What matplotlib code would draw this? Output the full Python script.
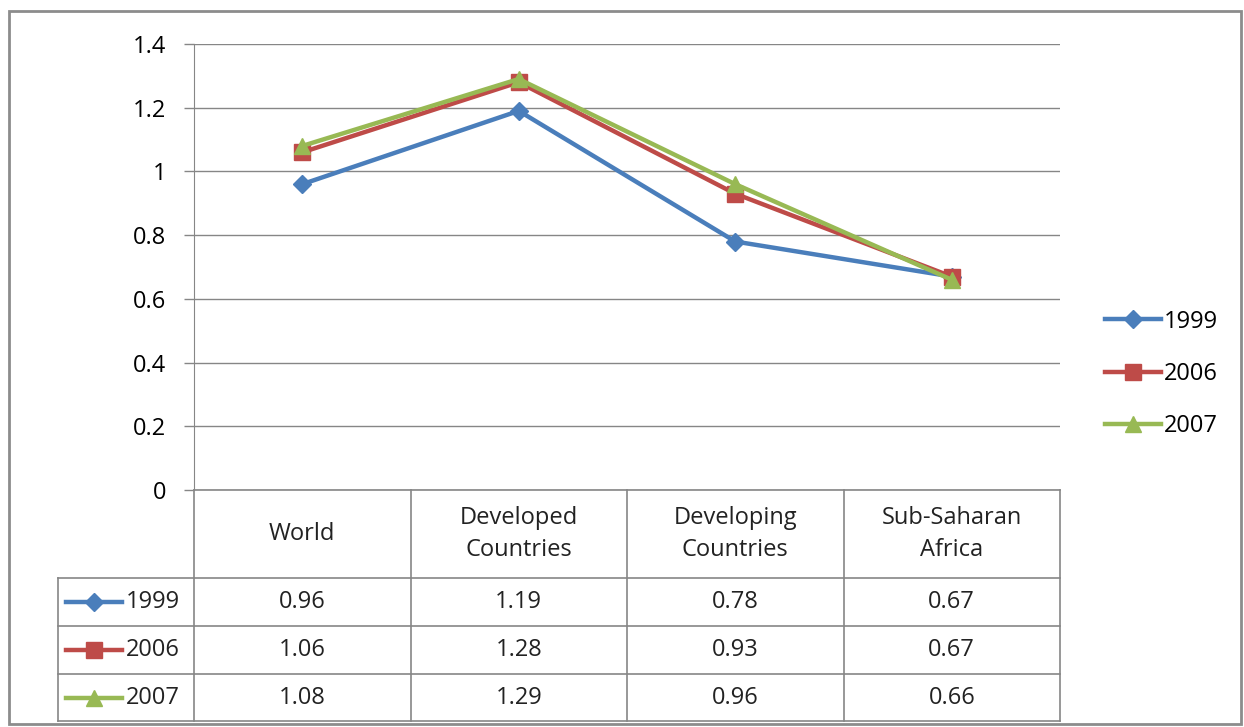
import matplotlib.pyplot as plt
from matplotlib.lines import Line2D
from matplotlib.patches import Rectangle

plt.rcParams['font.family'] = ['Open Sans', 'DejaVu Sans']

categories = ['World', 'Developed\nCountries', 'Developing\nCountries', 'Sub-Saharan\nAfrica']
years = ['1999', '2006', '2007']
v1999 = [0.96, 1.19, 0.78, 0.67]
v2006 = [1.06, 1.28, 0.93, 0.67]
v2007 = [1.08, 1.29, 0.96, 0.66]
yticks = [0, 0.2, 0.4, 0.6, 0.8, 1, 1.2, 1.4]

series = [v1999, v2006, v2007]
colors = ['#4a7ebb', '#be4b48', '#98b954']
markers = ['D', 's', '^']
msizes = [9, 12, 12]

W, H = 1244, 727
fig = plt.figure(figsize=(W / 100, H / 100), dpi=100)
FS = 17
GRID = '#868686'


def fx(x):
    return x / W


def fy(y):
    return 1 - y / H


# plot area in pixel units
L, R, T, B = 194, 1060, 44, 490
ax = fig.add_axes([fx(L), fy(B), fx(R) - fx(L), fy(T) - fy(B)])
ax.set_xlim(-0.5, len(categories) - 0.5)
ax.set_ylim(0, 1.4)
ax.set_yticks(yticks)
ax.set_yticklabels(['0' if t == 0 else ('%g' % t) for t in yticks], fontsize=FS)
ax.tick_params(axis='y', length=7, width=1, color=GRID, pad=13)
ax.set_xticks([])
ax.grid(axis='y', color=GRID, lw=1)
ax.set_axisbelow(True)
for s in ['top', 'right', 'bottom']:
    ax.spines[s].set_visible(False)
ax.spines['left'].set_color(GRID)

xs = list(range(len(categories)))
handles = []
for vals, yr, c, m, ms in zip(series, years, colors, markers, msizes):
    h, = ax.plot(xs, vals, color=c, lw=3.2, marker=m, ms=ms, mec=c, mfc=c,
                 label=yr, clip_on=False, zorder=3)
    handles.append(h)

fig.legend(handles=handles, loc='center left', bbox_to_anchor=(fx(1093), fy(374)),
           frameon=False, fontsize=FS, handlelength=2.4, handletextpad=0.1,
           labelspacing=1.2, borderpad=0)

# data table below the plot
col_edges = [L + (R - L) * i / len(categories) for i in range(len(categories) + 1)]
rows = [490, 578, 626, 674, 721]
tl = 58


def hline(x0, x1, y):
    fig.add_artist(Line2D([fx(x0), fx(x1)], [fy(y), fy(y)], color=GRID, lw=1.2))


def vline(x, y0, y1):
    fig.add_artist(Line2D([fx(x), fx(x)], [fy(y0), fy(y1)], color=GRID, lw=1.2))


hline(L, R, rows[0])
for y in rows[1:]:
    hline(tl, R, y)
for x in col_edges:
    vline(x, rows[0], rows[-1])
vline(tl, rows[1], rows[-1])

for i, cat in enumerate(categories):
    cx = (col_edges[i] + col_edges[i + 1]) / 2
    fig.text(fx(cx), fy((rows[0] + rows[1]) / 2), cat, ha='center', va='center',
             fontsize=FS, linespacing=1.5, color='#222222')

for r, (vals, yr, c, m, ms) in enumerate(zip(series, years, colors, markers, msizes)):
    cy = (rows[r + 1] + rows[r + 2]) / 2
    fig.add_artist(Line2D([fx(66), fx(122)], [fy(cy), fy(cy)], color=c, lw=3.2))
    fig.add_artist(Line2D([fx(94)], [fy(cy)], color=c, marker=m, ms=ms, mec=c, mfc=c))
    fig.text(fx(126), fy(cy), yr, ha='left', va='center', fontsize=FS, color='#222222')
    for i, v in enumerate(vals):
        cx = (col_edges[i] + col_edges[i + 1]) / 2
        fig.text(fx(cx), fy(cy), '%.2f' % v, ha='center', va='center',
                 fontsize=FS, color='#222222')

# chart border
fig.add_artist(Rectangle((fx(9), fy(724)), fx(1232), fy(11) - fy(724),
                         fill=False, ec='#8c8c8c', lw=2))

fig.savefig('out.png', dpi=100)
